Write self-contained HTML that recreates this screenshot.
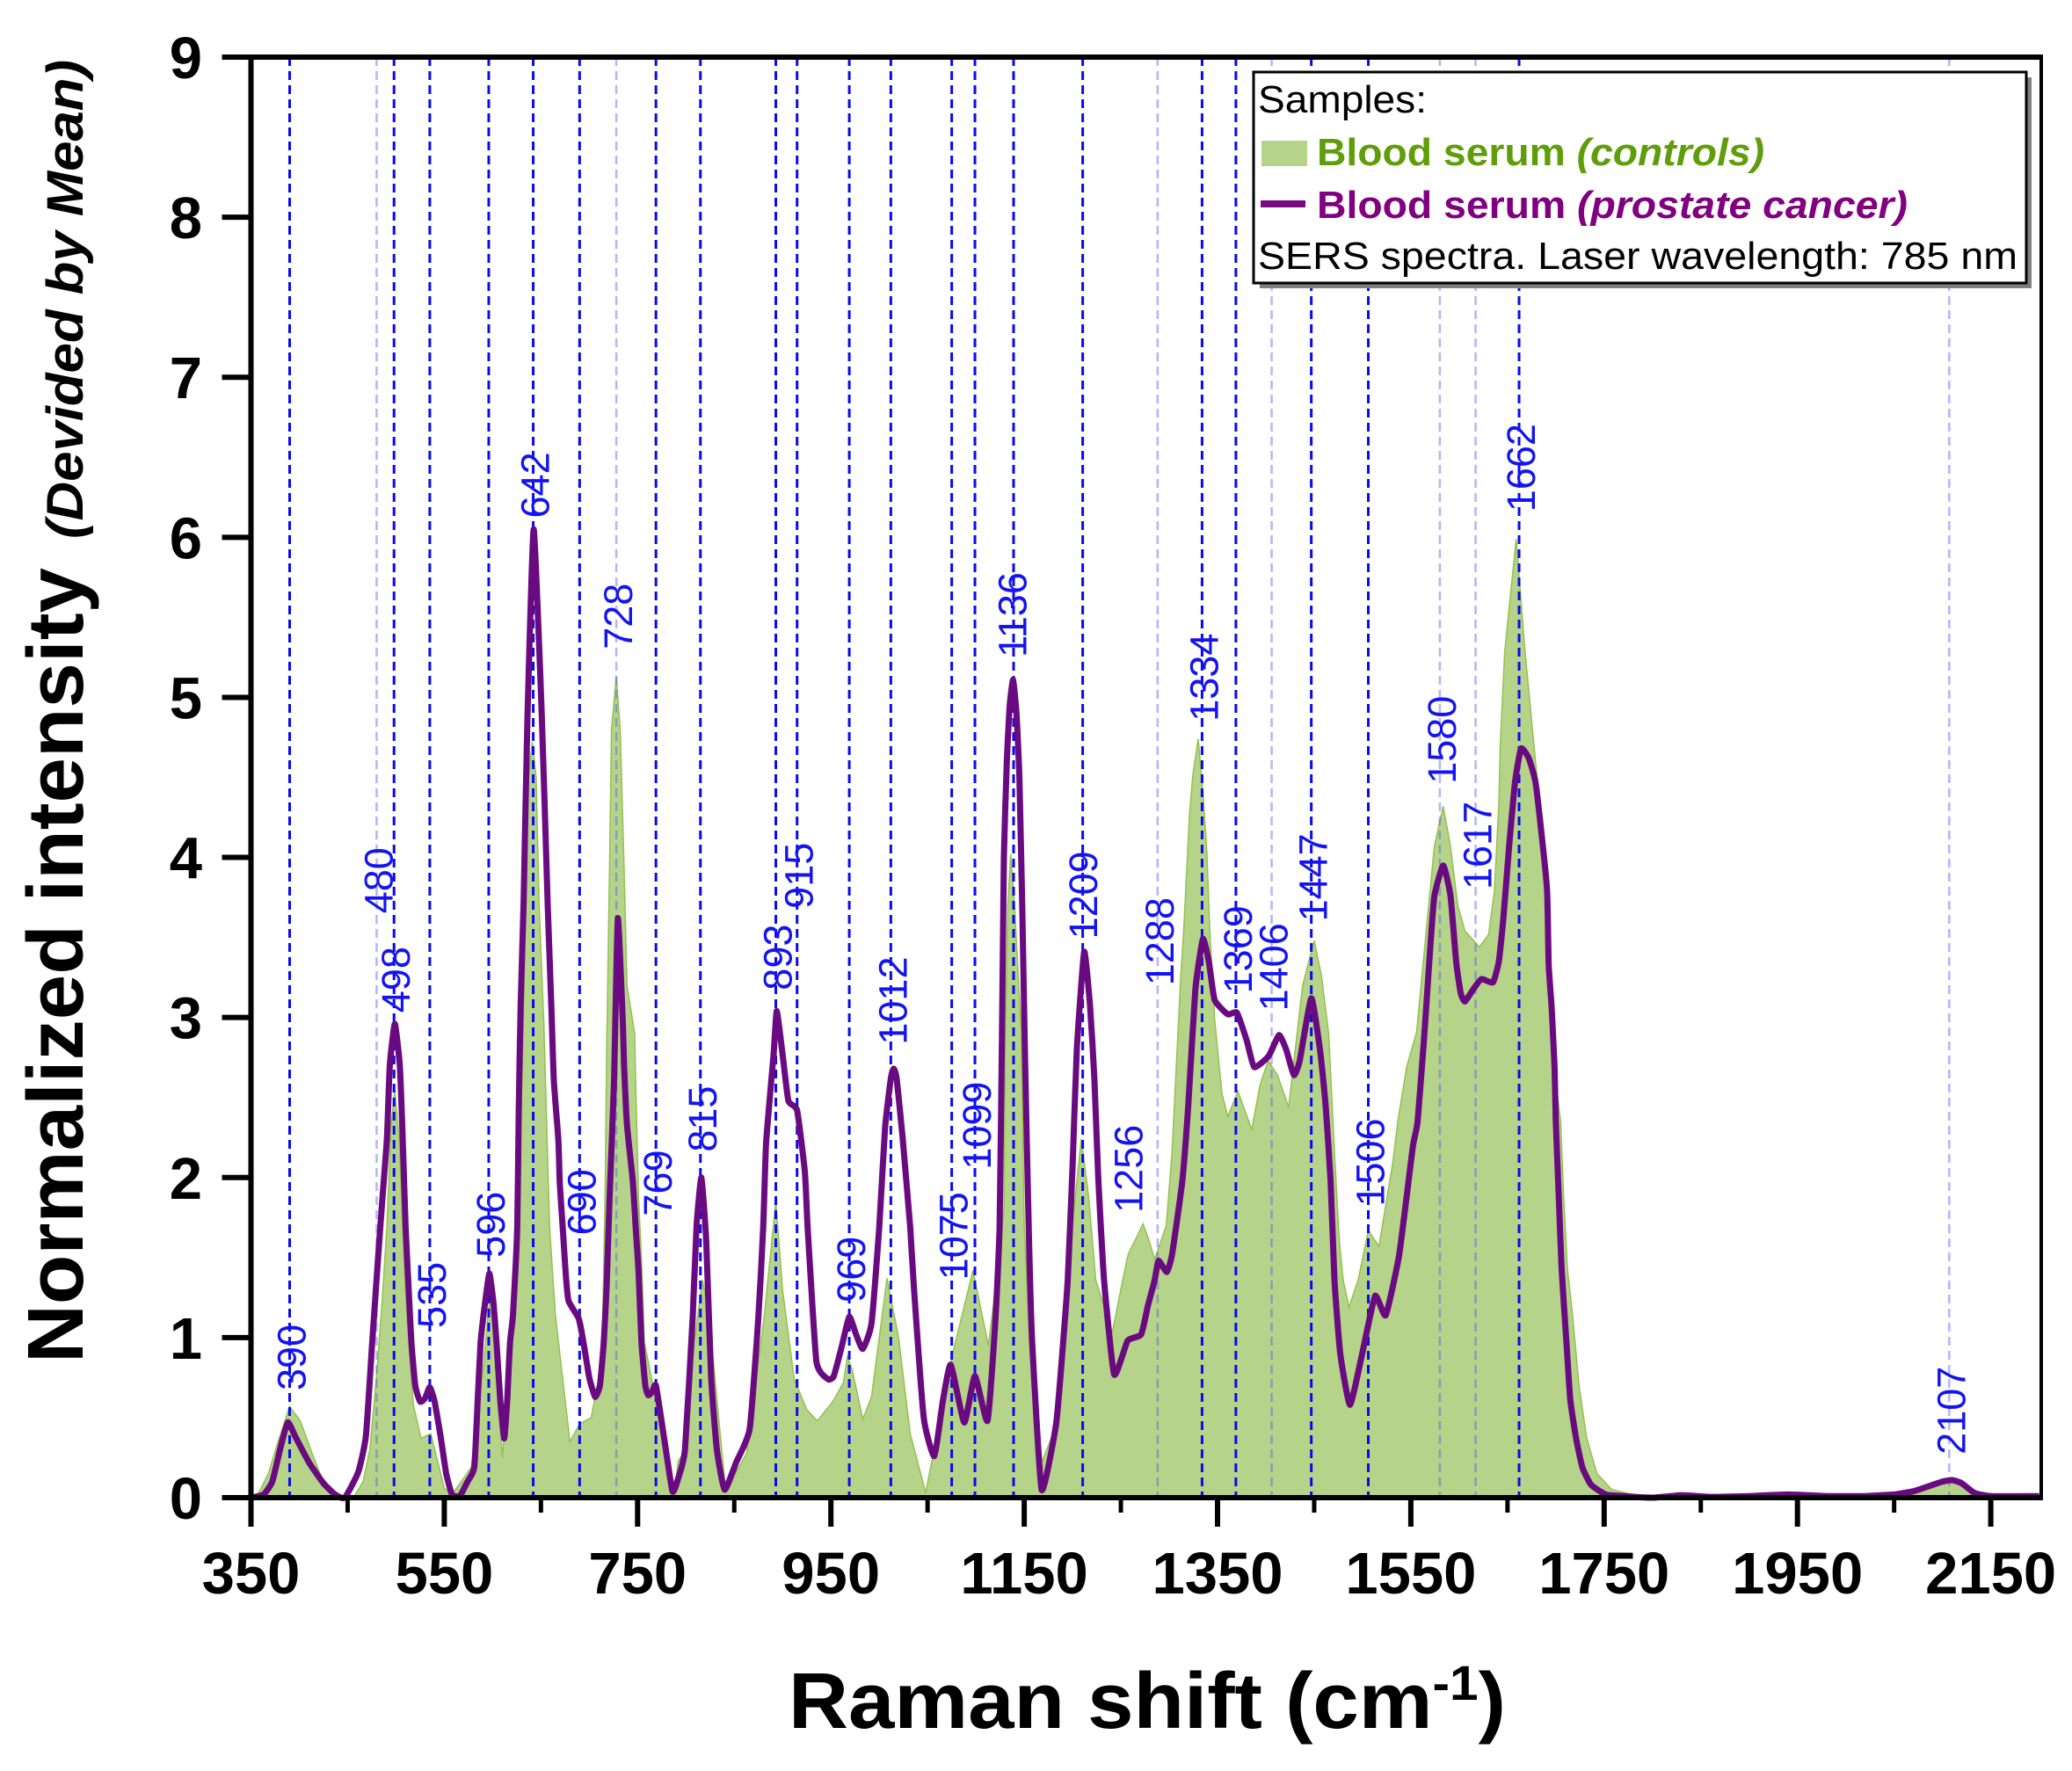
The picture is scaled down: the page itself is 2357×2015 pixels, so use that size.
<!DOCTYPE html>
<html>
<head>
<meta charset="utf-8">
<title>SERS spectra of blood serum</title>
<style>
html,body{margin:0;padding:0;background:#fff;}
svg{display:block;font-family:"Liberation Sans",Arial,sans-serif;}
</style>
</head>
<body>
<svg id="chart" xmlns="http://www.w3.org/2000/svg" width="2357" height="2015" viewBox="0 0 2357 2015">
  <rect x="0" y="0" width="2357" height="2015" fill="#ffffff"/>
  <g id="series-layer"></g>
  <g id="axis-layer"></g>
  <g id="label-layer"></g>

  <text x="897" y="1966" font-size="90" font-weight="bold" fill="#000" textLength="816" lengthAdjust="spacingAndGlyphs">Raman shift (cm<tspan dy="-32" font-size="56">-1</tspan><tspan dy="32">)</tspan></text>
  <text transform="translate(94,1551) rotate(-90)" font-size="90" font-weight="bold" fill="#000" textLength="905" lengthAdjust="spacingAndGlyphs">Normalized intensity</text>
  <text transform="translate(94,613) rotate(-90)" font-size="58" font-weight="bold" font-style="italic" fill="#000" textLength="545" lengthAdjust="spacingAndGlyphs">(Devided by Mean)</text>

  <g>
    <rect x="1433" y="88" width="878" height="240" fill="#7f7f7f"/>
    <rect x="1426" y="82" width="879" height="240" fill="#ffffff" stroke="#000" stroke-width="3"/>
    <text x="1431" y="128" font-size="44" fill="#000" textLength="192" lengthAdjust="spacingAndGlyphs">Samples:</text>
    <rect x="1435" y="160" width="52" height="29" fill="#b5d48a"/>
    <text x="1498" y="188" font-size="44" font-weight="bold" fill="#5f9e0a" textLength="509" lengthAdjust="spacingAndGlyphs">Blood serum <tspan font-style="italic">(controls)</tspan></text>
    <rect x="1434" y="228" width="51" height="8" fill="#7a0a80"/>
    <text x="1498" y="248" font-size="44" font-weight="bold" fill="#800080" textLength="672" lengthAdjust="spacingAndGlyphs">Blood serum <tspan font-style="italic">(prostate cancer)</tspan></text>
    <text x="1431" y="306" font-size="44" fill="#000" textLength="864" lengthAdjust="spacingAndGlyphs">SERS spectra. Laser wavelength: 785 nm</text>
  </g>
</svg>
<script>
const xTickValues = [350,550,750,950,1150,1350,1550,1750,1950,2150];
const xMinorTickValues = [450,650,850,1050,1250,1450,1650,1850,2050];
const yTickValues = [0,1,2,3,4,5,6,7,8,9];

const controlShift = [350,358,368,378,390,401,413,426,436,456,466,473,480,486,490.6,495,498.8,503.3,508.8,512,518,526,536,550,558,578,591,595,598,603,610,622.5,625.5,628.5,631.6,634,637,641,645,648,653,656,659,662,665,680,690,702,710,713.4,716.5,718,721,723,728,732,736,739,743,747,748,751,754,757,770,788,792,800,808,817,824,841,863,881,893,900,912,925,936,952,963,967,972,983,992,1008,1020,1032,1048,1076,1097,1113,1122,1129,1130.5,1133,1136,1140,1147,1150,1156,1168,1180,1194,1203,1209,1216.5,1224,1241,1252,1257.5,1273,1279,1285,1297,1303,1306,1312,1315,1318,1321,1324.5,1330,1335,1339,1342,1347,1354.5,1360.6,1371,1385.4,1394,1402.4,1412,1423.6,1438,1450,1457.6,1465,1471,1476,1480,1486,1495.5,1506,1517,1531,1536.5,1545.6,1556,1567,1574.4,1583.5,1591,1598.6,1606,1621,1630.5,1636.5,1641,1642.5,1647,1659,1668,1679,1691,1697,1700,1705,1708,1712,1717,1724,1732,1742.6,1758,1779,1803,2060,2085,2100,2110,2120,2135,2150,2200];
const controlIntensity = [0,.03,.15,.35,.57,.48,.28,.08,0,0,.1,.3,.76,1.25,1.69,2.33,2.54,2.24,1.41,1.08,.58,.37,.4,.06,.02,.19,.85,1.13,1.3,.9,.25,1.14,1.69,2.24,2.9,3.71,4.5,4.72,4.5,3.71,2.97,2.33,1.69,1.41,1.14,.35,.46,.5,.75,.97,1.96,2.8,3.94,4.8,5.13,4.8,3.94,3.2,3.05,2.9,2.6,1.87,1.5,.97,.58,.03,.23,.3,.94,1.36,1.13,.04,.28,1.13,1.85,1.3,.74,.55,.48,.6,.72,.88,.8,.49,.63,1.37,1,.4,.03,.9,1.42,.95,1.4,1.8,2.9,3.7,4.02,3.7,2.9,1.7,.9,.22,.4,1.36,1.89,2.24,1.89,1.36,1.03,1.36,1.52,1.71,1.61,1.49,1.7,2.16,2.53,3.26,3.54,3.9,4.27,4.52,4.74,4.4,4.03,3.54,2.99,2.53,2.38,2.54,2.3,2.58,2.73,2.64,2.44,3.2,3.48,3.26,2.9,2.16,1.61,1.36,1.19,1.36,1.67,1.57,2.08,2.35,2.69,2.91,3.61,4.07,4.32,4.07,3.7,3.54,3.44,3.52,3.79,4.34,4.7,5.28,5.99,5.3,4.6,3.86,3,2.6,2.35,1.89,1.43,1.16,.7,.37,.15,.05,.02,0,0,.07,.11,.12,.09,.02,0,0];

const cancerShift = [350,363,372,380,388,396,410,425,437,447,461,469,475.4,481.5,486,490.6,493.6,498.8,504,507,510,513,516,520,525,530,535,540,546,552,558,566,574,581,584.5,587.6,592,596.7,601,604,608,612,615,618,621,625.5,627,629,632,636,642.5,651,657,660.7,663.4,668,669.5,672.5,675.5,678.5,689,694,700,706,711,715,718,721,725.6,729.5,734.7,736,739,745,748,751,754,758,761,765,769,777,786,792,799,807,811,816,821,826,832,840,852,866,875,880,883,890.7,894,900,906,915,923,926,935,947,953,961,969,976,983,992,1000,1006,1012,1015,1018,1024,1032,1036,1046,1057,1066,1074,1088,1099,1112,1120,1124.5,1127,1129,1132,1135,1138.5,1142,1145,1148,1151,1154.6,1158,1168,1183,1190,1195,1200,1204.4,1212,1218,1222.6,1226.6,1232.6,1243,1257,1271,1278,1285,1289,1297.5,1303,1313.6,1319.6,1327,1334.8,1341,1347,1360.6,1370,1380,1388,1403,1413.6,1421,1429,1435,1447,1456,1462,1467,1471,1477,1487,1499,1513,1524,1538,1552,1557,1563.8,1570,1574.4,1583.5,1591,1597,1601.7,1606,1615,1623,1635,1641,1645.6,1651.7,1657.8,1664,1672,1679,1685,1691,1692.6,1695.7,1698.7,1700,1703,1706,1711,1715,1721,1727.4,1736.5,1751.7,1770,1800,1830,1860,1900,1940,1980,2020,2050,2070,2085,2100,2110,2120,2133,2150,2200];
const cancerIntensity = [0,.02,.1,.3,.47,.38,.22,.09,.02,0,.16,.39,.97,1.5,1.87,2.24,2.7,2.96,2.7,2.24,1.69,1.32,.97,.7,.6,.62,.69,.6,.39,.15,.02,.01,.1,.19,.6,.97,1.21,1.4,1.21,.97,.6,.37,.6,.97,1.14,1.69,2.42,3.08,3.71,4.87,6.05,4.87,3.71,3.08,2.6,2.24,1.96,1.69,1.41,1.23,1.12,.97,.75,.63,.7,.97,1.32,1.87,2.6,3.62,2.97,2.7,2.33,1.98,1.69,1.41,.97,.7,.64,.66,.7,.39,.04,.12,.3,1.13,1.7,2,1.6,.76,.3,.05,.22,.43,1.13,1.69,2.22,2.77,3.04,2.77,2.48,2.42,2.04,1.68,.85,.74,.76,.94,1.13,1.02,.93,1.09,1.69,2.31,2.62,2.68,2.62,2.26,1.69,1.3,.5,.26,.61,.83,.47,.76,.48,1.09,1.69,2.9,4.01,4.6,4.95,5.11,4.9,4.5,3.68,2.7,1.69,1,.05,.46,.95,1.36,2.07,2.8,3.41,3.08,2.62,2,1.36,.77,.98,1.02,1.2,1.36,1.48,1.41,1.52,1.98,2.44,3.17,3.49,3.35,3.11,3.02,3.03,2.86,2.69,2.76,2.89,2.8,2.64,2.73,3.12,2.8,2.44,1.98,1.36,.9,.58,.88,1.26,1.14,1.52,2.19,2.35,2.88,3.43,3.76,3.95,3.76,3.34,3.15,3.1,3.18,3.24,3.22,3.35,3.61,4.07,4.47,4.68,4.62,4.47,4.16,3.79,3.33,3.06,2.69,2.35,1.89,1.43,.97,.61,.37,.19,.08,.02,.01,0,.015,.005,.01,.02,.01,.01,.02,.04,.07,.1,.11,.09,.03,.01,.01];

const peakShift = [390,480,498,535,596,642,690,728,769,815,893,915,969,1012,1075,1099,1139,1210.5,1288,1334,1369,1406,1447,1506,1580,1617,1662,2107];
const faintPeakShift = [480,728,1288,1406,1580,1617,2107];
const labelText = ["390","480","498","535","596","642","690","728","769","815","893","915","969","1012","1075","1099","1136","1209","1256","1288","1334","1369","1406","1447","1506","1580","1617","1662","2107"];
const labelShift = [390,480,498,535,596,642,690,728,769,815,893,915,969,1012,1075,1099,1136,1209,1256,1288,1334,1369,1406,1447,1506,1580,1617,1662,2107];
const labelIntensity = [.67,3.65,3.03,1.06,1.5,6.12,1.64,5.3,1.76,2.16,3.17,3.68,1.22,2.83,1.36,2.05,5.25,3.49,1.78,3.2,4.85,3.15,3.04,3.6,1.82,4.46,3.8,6.16,.27];

const NS = 'http://www.w3.org/2000/svg';
const plotLeft = 285.5, plotRight = 2322, plotTop = 65, plotBottom = 1704;
function xScale(v){ return plotLeft + (v - 350) * 1.0995; }
function yScale(v){ return plotBottom - v * (plotBottom - plotTop) / 9; }
function make(tag, attrs, parent){
  const el = document.createElementNS(NS, tag);
  for (const k in attrs) el.setAttribute(k, attrs[k]);
  parent.appendChild(el);
  return el;
}
function smoothPath(xs, ys){
  const p = xs.map((v, i) => [xScale(v), yScale(ys[i])]);
  let d = 'M' + p[0][0].toFixed(1) + ' ' + p[0][1].toFixed(1);
  for (let i = 0; i < p.length - 1; i++){
    const a = p[Math.max(i - 1, 0)], b = p[i], c = p[i + 1], e = p[Math.min(i + 2, p.length - 1)];
    const k = 0.08;
    const c1 = [b[0] + (c[0] - a[0]) * k, b[1] + (c[1] - a[1]) * k];
    const c2 = [c[0] - (e[0] - b[0]) * k, c[1] - (e[1] - b[1]) * k];
    d += 'C' + c1[0].toFixed(1) + ' ' + c1[1].toFixed(1) + ' ' + c2[0].toFixed(1) + ' ' + c2[1].toFixed(1) + ' ' + c[0].toFixed(1) + ' ' + c[1].toFixed(1);
  }
  return d;
}

const seriesLayer = document.getElementById('series-layer');
const axisLayer = document.getElementById('axis-layer');
const labelLayer = document.getElementById('label-layer');

let areaD = 'M' + xScale(controlShift[0]) + ' ' + yScale(0);
controlShift.forEach((v, i) => { areaD += 'L' + xScale(v).toFixed(1) + ' ' + yScale(controlIntensity[i]).toFixed(1); });
areaD += 'L' + xScale(controlShift[controlShift.length - 1]).toFixed(1) + ' ' + yScale(0) + 'Z';
const area = make('path', {d: areaD, fill: '#b5d48a', stroke: '#94c14e', 'stroke-width': 1.5}, seriesLayer);



peakShift.forEach(v => {
  const faint = faintPeakShift.includes(v);
  const guide = make('line', {x1: xScale(v), x2: xScale(v), y1: plotTop, y2: plotBottom, stroke: faint ? '#5050f0' : '#0a0af0', 'stroke-opacity': faint ? 0.42 : 1, 'stroke-width': faint ? 2.6 : 3, 'stroke-dasharray': '10 6'}, seriesLayer);
  
  
});

const cancerLine = make('path', {d: smoothPath(cancerShift, cancerIntensity), fill: 'none', stroke: '#6a0a80', 'stroke-width': 7, 'stroke-linejoin': 'round'}, seriesLayer);



const frame = make('path', {d: 'M' + plotRight + ' ' + plotBottom + 'H' + plotLeft + 'V' + plotTop + 'H' + plotRight, fill: 'none', stroke: '#000', 'stroke-width': 6}, axisLayer);


const frameRight = make('line', {x1: plotRight, x2: plotRight, y1: plotTop - 3, y2: plotBottom + 3, stroke: '#000', 'stroke-width': 4}, axisLayer);



xTickValues.forEach(v => {
  const tick = make('line', {x1: xScale(v), x2: xScale(v), y1: plotBottom, y2: plotBottom + 33, stroke: '#000', 'stroke-width': 6}, axisLayer);
  
  
  const label = make('text', {x: xScale(v), y: 1813, 'text-anchor': 'middle', 'font-size': 67, 'font-weight': 'bold', fill: '#000'}, axisLayer);
  
  
  label.textContent = v;
});
xMinorTickValues.forEach(v => {
  const tick = make('line', {x1: xScale(v), x2: xScale(v), y1: plotBottom, y2: plotBottom + 17, stroke: '#000', 'stroke-width': 5}, axisLayer);
  
  
});
yTickValues.forEach(v => {
  const tick = make('line', {x1: plotLeft - 33, x2: plotLeft, y1: yScale(v), y2: yScale(v), stroke: '#000', 'stroke-width': 6}, axisLayer);
  
  
  const label = make('text', {x: 230, y: yScale(v) + 24, 'text-anchor': 'end', 'font-size': 67, 'font-weight': 'bold', fill: '#000'}, axisLayer);
  
  
  label.textContent = v;
});

labelText.forEach((t, i) => {
  const lx = xScale(labelShift[i]) + 18;
  const ly = yScale(labelIntensity[i]);
  const label = make('text', {transform: 'translate(' + lx + ',' + ly + ') rotate(-90)', 'font-size': 45, fill: '#1414f0'}, labelLayer);
  
  
  label.textContent = t;
});
</script>
</body>
</html>
